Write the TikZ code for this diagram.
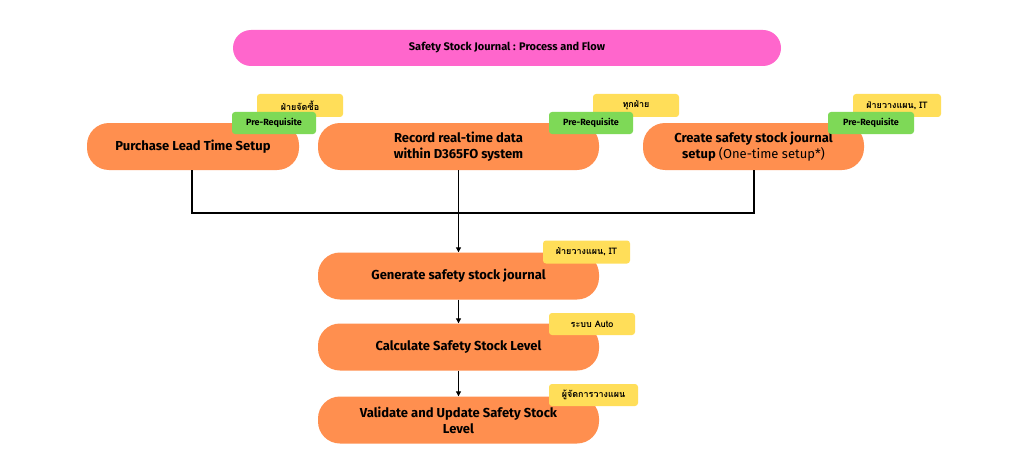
\documentclass[tikz,border=0pt]{standalone}
\usepackage{fontspec}
\setmainfont{Fira Sans}
\newfontfamily\thaifont[Script=Thai]{Loma}
\usetikzlibrary{arrows.meta}
\definecolor{orng}{HTML}{FF8F4F}
\definecolor{pnk}{HTML}{FF66CC}
\definecolor{ylw}{HTML}{FFDE59}
\definecolor{grn}{HTML}{7ED957}
\begin{document}
\begin{tikzpicture}[x=1pt,y=-1pt,
 proc/.style={fill=orng,rounded corners=22pt,minimum height=47pt,align=center,inner sep=2pt,font=\fontsize{13}{16}\selectfont\bfseries},
 tagy/.style={fill=ylw,rounded corners=3pt,minimum height=23pt,inner sep=2pt,font=\thaifont\fontsize{9}{10}\selectfont\bfseries},
 tagg/.style={fill=grn,rounded corners=3pt,minimum height=22pt,inner sep=2pt,font=\fontsize{9}{10}\selectfont\bfseries},
 ln/.style={draw=black,line width=1.1pt},
 arr/.style={ln,-{Triangle[length=5pt,width=5pt]}}]
\useasboundingbox (0,0) rectangle (1024,468);
\fill[white] (0,0) rectangle (1024,468);
\node[fill=pnk,rounded corners=18pt,minimum width=548pt,minimum height=36pt,font=\fontsize{11}{13}\selectfont\bfseries] (title) at (507,48) {Safety Stock Journal : Process and Flow};
\node[proc,minimum width=212pt] (b1) at (193,146.5) {Purchase Lead Time Setup};
\node[proc,minimum width=281pt] (b2) at (458.5,146.5) {Record real-time data\\within D365FO system};
\node[proc,minimum width=221pt] (b3) at (753.5,146.5) {Create safety stock journal\\setup {\mdseries(One-time setup*)}};
\node[proc,minimum width=281pt] (g) at (458.5,276) {Generate safety stock journal};
\node[proc,minimum width=281pt] (c) at (458.5,347) {Calculate Safety Stock Level};
\node[proc,minimum width=281pt] (v) at (458.5,420) {Validate and Update Safety Stock\\Level};
\node[tagy,minimum width=86pt] (y1) at (300,105.5) {ฝ่ายจัดซื้อ};
\node[tagg,minimum width=84pt] (g1) at (274,123) {Pre-Requisite};
\node[tagy,minimum width=86pt] (y2) at (636,105.5) {ทุกฝ่าย};
\node[tagg,minimum width=84pt] (g2) at (591,123) {Pre-Requisite};
\node[tagy,minimum width=88pt] (y3) at (897,105.5) {ฝ่ายวางแผน, IT};
\node[tagg,minimum width=86pt] (g3) at (871,123) {Pre-Requisite};
\node[tagy,minimum width=87pt] (y4) at (586.5,252) {ฝ่ายวางแผน, IT};
\node[tagy,minimum width=86pt,minimum height=22pt] (y5) at (592,324) {ระบบ Auto};
\node[tagy,minimum width=89pt,minimum height=22pt] (y6) at (593.5,395) {ผู้จัดการวางแผน};
\coordinate (j1) at (192,213);
\coordinate (j2) at (458.5,213);
\coordinate (j3) at (754,213);
\draw[ln] (b1.south -| j1) -- (j1) -- (j3) -- (b3.south -| j3);
\draw[ln] (b2.south) -- (j2);
\draw[arr] (j2) -- (g.north);
\draw[arr] (g) -- (c);
\draw[arr] (c) -- (v);
\end{tikzpicture}
\end{document}
